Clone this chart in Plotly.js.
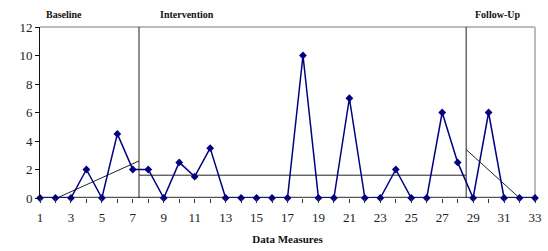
<!DOCTYPE html>
<html><head><meta charset="utf-8">
<script src="https://cdn.plot.ly/plotly-3.0.1.min.js"></script>
<style>html,body{margin:0;padding:0;background:#fff}#chart{width:548px;height:251px}</style>
</head><body><div id="chart"></div>
<script>
const sessions = Array.from({length:33},(_,i)=>i+1);
const values = [0,0,0,2,0,4.5,2,2,0,2.5,1.5,3.5,0,0,0,0,0,10,0,0,7,0,0,2,0,0,6,2.5,0,6,0,0,0];
const phaseLabels = ["Baseline","Intervention","Follow-Up"];
const phaseLabelX = [2.55, 10.5, 30.6];
const phaseChanges = [7.4, 28.55];
const baselineTrendX = [2.1, 7.4];
const baselineTrendY = [0, 2.6];
const interventionMeanX = [7.4, 28.55];
const interventionMeanY = [1.6, 1.6];
const followTrendX = [28.55, 32];
const followTrendY = [3.4, 0];
const yTicks = [0,2,4,6,8,10,12];

const thin = {color:'#222', width:1};
const traces = [];
phaseChanges.forEach(x=>traces.push({x:[x,x],y:[0,12],mode:'lines',line:thin,hoverinfo:'skip',showlegend:false}));
traces.push({x:baselineTrendX,y:baselineTrendY,mode:'lines',line:thin,showlegend:false});
traces.push({x:interventionMeanX,y:interventionMeanY,mode:'lines',line:thin,showlegend:false});
traces.push({x:followTrendX,y:followTrendY,mode:'lines',line:thin,showlegend:false});
traces.push({x:sessions,y:values,mode:'lines+markers',line:{color:'#000080',width:1.5},
  marker:{symbol:'diamond',size:6,color:'#000080'},cliponaxis:false,showlegend:false});

const serif = 'Liberation Serif';
const layout = {
  width:548,height:251,
  margin:{l:40,r:13,t:27,b:53},
  paper_bgcolor:'#fff',plot_bgcolor:'#fff',
  showlegend:false,
  font:{family:serif,color:'#222',size:13},
  xaxis:{range:[1,33],tickvals:sessions,ticktext:sessions.map(v=>v%2===1?String(v):''),
    ticks:'outside',ticklen:4,tickcolor:'#333',showgrid:false,zeroline:false,ticklabelstandoff:3,
    showline:false,tickfont:{family:serif,size:13,color:'#222'},
    title:{text:'<b>Data Measures</b>',font:{family:serif,size:11,color:'#111'},standoff:11}},
  yaxis:{range:[0,12],tickvals:yTicks,ticks:'outside',ticklen:4,tickcolor:'#111',
    showgrid:false,zeroline:false,showline:true,linecolor:'#111',linewidth:1,
    tickfont:{family:serif,size:13,color:'#222'}},
  shapes:[
    {type:'line',xref:'paper',yref:'paper',x0:0,x1:1,y0:1,y1:1,line:{color:'#bbb',width:2},layer:'below'},
    {type:'line',xref:'paper',yref:'paper',x0:1,x1:1,y0:0,y1:1,line:{color:'#bbb',width:2},layer:'below'},
    {type:'line',xref:'paper',yref:'y',x0:0,x1:1,y0:0,y1:0,line:{color:'#555',width:2.5},layer:'below'}
  ],
  annotations: phaseLabels.map((t,i)=>({text:'<b>'+t+'</b>',x:phaseLabelX[i],xref:'x',y:1,yref:'paper',
    yshift:13,showarrow:false,xanchor:'center',yanchor:'middle',font:{family:serif,size:10,color:'#111'}}))
};
Plotly.newPlot('chart',traces,layout,{staticPlot:true,displayModeBar:false});
</script></body></html>
